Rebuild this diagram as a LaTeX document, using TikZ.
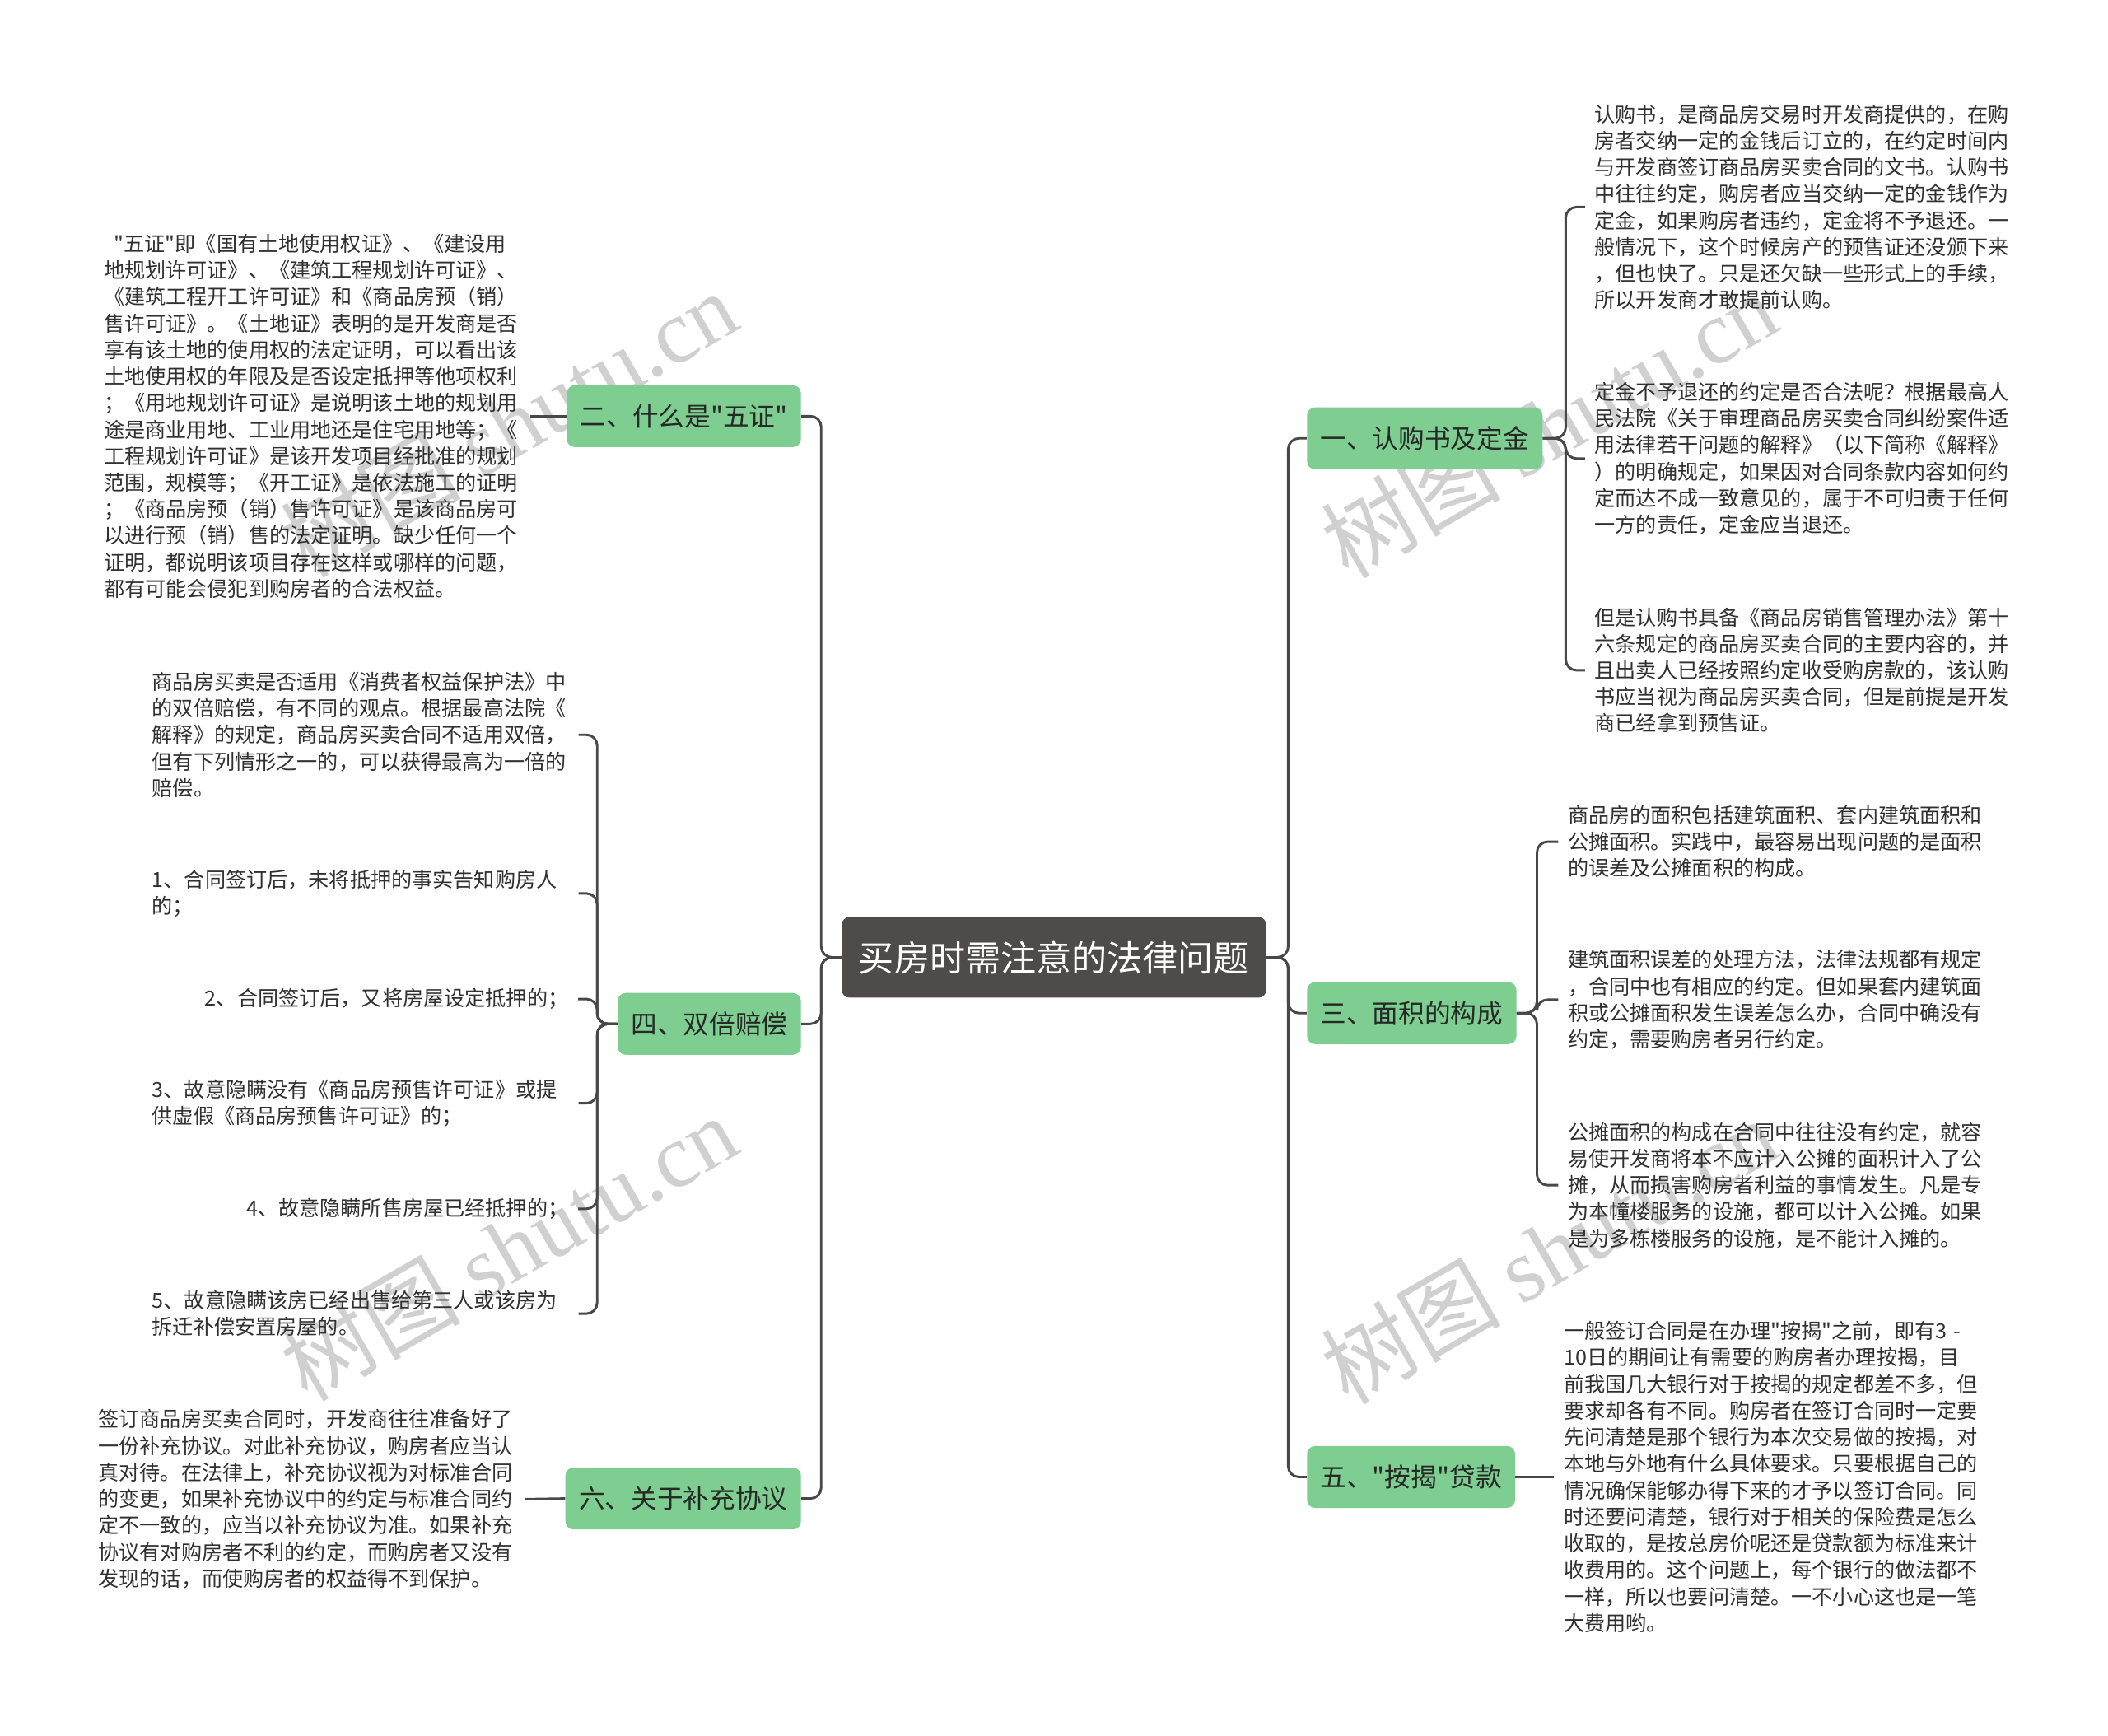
\documentclass[tikz,border=0pt]{standalone}
\usepackage{fontspec}
\setmainfont{Noto Sans CJK SC}[Ligatures=TeXOff]
\newfontfamily\wmlatin{Liberation Serif}[Ligatures=TeXOff]
\definecolor{linec}{RGB}{72,72,72}
\definecolor{leaftext}{RGB}{48,48,48}
\definecolor{branchg}{RGB}{126,205,145}
\definecolor{branchtext}{RGB}{38,42,38}
\definecolor{rootc}{RGB}{80,75,75}
\definecolor{wmc}{RGB}{208,208,208}
\newcommand\leaffont{\fontsize{15.4pt}{19.75pt}\selectfont}
\newcommand\branchfont{\fontsize{19.4pt}{23pt}\selectfont}
\newcommand\rootfont{\fontsize{26.4pt}{30pt}\selectfont}
\tikzset{
  conn/.style={draw=linec, line width=1.8pt, rounded corners=8pt},
  leaf/.style={font=\leaffont, text=leaftext, align=left, inner xsep=7pt, inner ysep=2pt},
  leafw/.style={leaf, text width=310pt},
  branch/.style={fill=branchg, rounded corners=6pt, font=\branchfont, text=branchtext, inner xsep=10pt, inner ysep=0pt, minimum height=46pt},
  rootbox/.style={fill=rootc, rounded corners=6pt, font=\rootfont, text=white, minimum width=316pt, minimum height=60pt, inner sep=0pt},
  wm/.style={text=wmc, font=\fontsize{67pt}{72pt}\selectfont, rotate=30, inner sep=0pt}
}
\begin{document}
\begin{tikzpicture}[x=1pt, y=-1pt]
\useasboundingbox[fill=white] (0,0) rectangle (1568,1291);
% watermarks
\node[wm] (wm1) at (378,315) {树图 {\wmlatin shutu.cn}};
\node[wm] (wm2) at (1152,316) {树图 {\wmlatin shutu.cn}};
\node[wm] (wm3) at (378,928) {树图 {\wmlatin shutu.cn}};
\node[wm] (wm4) at (1152,930) {树图 {\wmlatin shutu.cn}};

% root
\node[rootbox] (root) at (784,712) {买房时需注意的法律问题};

% branches
\node[branch, anchor=west] (b1) at (972,326) {一、认购书及定金};
\node[branch, anchor=west] (b3) at (972,753.5) {三、面积的构成};
\node[branch, anchor=west] (b5) at (972,1098.5) {五、"按揭"贷款};
\node[branch, anchor=east] (b2) at (596,309.5) {二、什么是"五证"};
\node[branch, anchor=east] (b4) at (596,761.5) {四、双倍赔偿};
\node[branch, anchor=east] (b6) at (596,1114.5) {六、关于补充协议};

% leaves of b1
\node[leafw, anchor=west] (l11) at (1179,154) {认购书，是商品房交易时开发商提供的，在购\\
房者交纳一定的金钱后订立的，在约定时间内\\
与开发商签订商品房买卖合同的文书。认购书\\
中往往约定，购房者应当交纳一定的金钱作为\\
定金，如果购房者违约，定金将不予退还。一\\
般情况下，这个时候房产的预售证还没颁下来\\
，但也快了。只是还欠缺一些形式上的手续，\\
所以开发商才敢提前认购。};
\node[leafw, anchor=west] (l12) at (1179,341) {定金不予退还的约定是否合法呢？根据最高人\\
民法院《关于审理商品房买卖合同纠纷案件适\\
用法律若干问题的解释》（以下简称《解释》\\
）的明确规定，如果因对合同条款内容如何约\\
定而达不成一致意见的，属于不可归责于任何\\
一方的责任，定金应当退还。};
\node[leafw, anchor=west] (l13) at (1179,498.5) {但是认购书具备《商品房销售管理办法》第十\\
六条规定的商品房买卖合同的主要内容的，并\\
且出卖人已经按照约定收受购房款的，该认购\\
书应当视为商品房买卖合同，但是前提是开发\\
商已经拿到预售证。};

% leaves of b3
\node[leafw, anchor=west] (l31) at (1159,626) {商品房的面积包括建筑面积、套内建筑面积和\\
公摊面积。实践中，最容易出现问题的是面积\\
的误差及公摊面积的构成。};
\node[leafw, anchor=west] (l32) at (1159,743.5) {建筑面积误差的处理方法，法律法规都有规定\\
，合同中也有相应的约定。但如果套内建筑面\\
积或公摊面积发生误差怎么办，合同中确没有\\
约定，需要购房者另行约定。};
\node[leafw, anchor=west] (l33) at (1159,881.5) {公摊面积的构成在合同中往往没有约定，就容\\
易使开发商将本不应计入公摊的面积计入了公\\
摊，从而损害购房者利益的事情发生。凡是专\\
为本幢楼服务的设施，都可以计入公摊。如果\\
是为多栋楼服务的设施，是不能计入摊的。};

% leaf of b5
\node[leafw, anchor=west] (l5) at (1156,1098.5) {一般签订合同是在办理"按揭"之前，即有3~-\\
10日的期间让有需要的购房者办理按揭，目\\
前我国几大银行对于按揭的规定都差不多，但\\
要求却各有不同。购房者在签订合同时一定要\\
先问清楚是那个银行为本次交易做的按揭，对\\
本地与外地有什么具体要求。只要根据自己的\\
情况确保能够办得下来的才予以签订合同。同\\
时还要问清楚，银行对于相关的保险费是怎么\\
收取的，是按总房价呢还是贷款额为标准来计\\
收费用的。这个问题上，每个银行的做法都不\\
一样，所以也要问清楚。一不小心这也是一笔\\
大费用哟。};

% leaf of b2
\node[leafw, anchor=west] (l2) at (70,309.5) {\hspace*{0.5em}"五证"即《国有土地使用权证》、《建设用\\
地规划许可证》、《建筑工程规划许可证》、\\
《建筑工程开工许可证》和《商品房预（销）\\
售许可证》。《土地证》表明的是开发商是否\\
享有该土地的使用权的法定证明，可以看出该\\
土地使用权的年限及是否设定抵押等他项权利\\
；《用地规划许可证》是说明该土地的规划用\\
途是商业用地、工业用地还是住宅用地等；《\\
工程规划许可证》是该开发项目经批准的规划\\
范围，规模等；《开工证》是依法施工的证明\\
；《商品房预（销）售许可证》是该商品房可\\
以进行预（销）售的法定证明。缺少任何一个\\
证明，都说明该项目存在这样或哪样的问题，\\
都有可能会侵犯到购房者的合法权益。};

% leaves of b4
\node[leafw, anchor=west] (l4a) at (106,546.5) {商品房买卖是否适用《消费者权益保护法》中\\
的双倍赔偿，有不同的观点。根据最高法院《\\
解释》的规定，商品房买卖合同不适用双倍，\\
但有下列情形之一的，可以获得最高为一倍的\\
赔偿。};
\node[leafw, anchor=west] (l4b) at (106,664.5) {1、合同签订后，未将抵押的事实告知购房人\\
的；};
\node[leaf, anchor=east] (l4c) at (430,743) {2、合同签订后，又将房屋设定抵押的；};
\node[leafw, anchor=west] (l4d) at (106,820.5) {3、故意隐瞒没有《商品房预售许可证》或提\\
供虚假《商品房预售许可证》的；};
\node[leaf, anchor=east] (l4e) at (430,899) {4、故意隐瞒所售房屋已经抵押的；};
\node[leafw, anchor=west] (l4f) at (106,977) {5、故意隐瞒该房已经出售给第三人或该房为\\
拆迁补偿安置房屋的。};

% leaf of b6
\node[leafw, anchor=west] (l6) at (66,1115) {签订商品房买卖合同时，开发商往往准备好了\\
一份补充协议。对此补充协议，购房者应当认\\
真对待。在法律上，补充协议视为对标准合同\\
的变更，如果补充协议中的约定与标准合同约\\
定不一致的，应当以补充协议为准。如果补充\\
协议有对购房者不利的约定，而购房者又没有\\
发现的话，而使购房者的权益得不到保护。};

% connectors root -> branches
\foreach \b in {b1,b3,b5} \draw[conn] (root.east) -- ++(16,0) |- (\b.west);
\foreach \b in {b2,b4,b6} \draw[conn] (root.west) -- ++(-15,0) |- (\b.east);
% b1 -> leaves
\foreach \l in {l11,l12,l13} \draw[conn] (b1.east) -- ++(17,0) |- (\l.west);
% b3 -> leaves
\foreach \l in {l31,l32,l33} \draw[conn] (b3.east) -- ++(15,0) |- (\l.west);
% b5 -> leaf
\draw[conn] (b5.east) -- (l5.west);
% b2, b6
\draw[conn] (b2.west) -- (l2.east);
\draw[conn] (b6.west) -- (l6.east);
% b4 -> leaves
\foreach \l in {l4a,l4b,l4c,l4d,l4e,l4f} \draw[conn] (b4.west) -- ++(-15,0) |- (\l.east);
\end{tikzpicture}
\end{document}
